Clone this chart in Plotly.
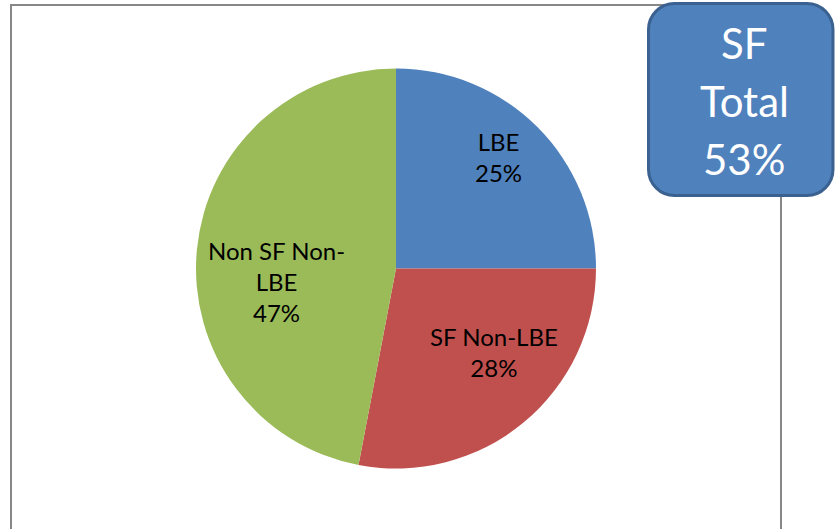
import math
import plotly.graph_objects as go

# ---- data ----
labels = ["LBE", "SF Non-LBE", "Non SF Non-LBE"]
label_text = ["LBE", "SF Non-LBE", "Non SF Non-<br>LBE"]
values = [25, 28, 47]
callout_lines = ["SF", "Total", "53%"]

# ---- style ----
colors = ["#4F81BD", "#C0504D", "#9BBB59"]
W, H = 835, 529
CX, CY, R = 396, 268.5, 200          # pie centre / radius in pixels
label_radius = [151, 129, 120]        # label distance from centre (px)
label_angle_shift = [-2.5, -9.8, -11.6]  # best-fit nudge (deg)
FONT = "Lato, Calibri, 'Open Sans', sans-serif"


def px(x):
    return x / W


def py(y):
    return 1 - y / H


fig = go.Figure()
fig.add_trace(go.Pie(
    labels=labels,
    values=values,
    sort=False,
    direction="clockwise",
    rotation=0,
    marker=dict(colors=colors, line=dict(width=0)),
    textinfo="none",
    hoverinfo="label+percent",
    showlegend=False,
    domain=dict(x=[px(CX - R), px(CX + R)], y=[py(CY + R), py(CY - R)]),
))

annotations = []
total = sum(values)
cum = 0
for i, v in enumerate(values):
    mid = (cum + v / 2) / total * 360 + label_angle_shift[i]
    cum += v
    a = math.radians(mid)
    x = CX + label_radius[i] * math.sin(a)
    y = CY - label_radius[i] * math.cos(a)
    pct = round(v / total * 100)
    annotations.append(dict(
        x=px(x), y=py(y), xref="paper", yref="paper",
        text=f"{label_text[i]}<br>{pct}%", showarrow=False,
        xanchor="center", yanchor="middle", align="center",
        font=dict(family=FONT, size=24, color="#000000"),
    ))

# callout text
for j, t in enumerate(callout_lines):
    annotations.append(dict(
        x=px(744), y=py(43 + j * 58), xref="paper", yref="paper",
        text=t, showarrow=False, xanchor="center", yanchor="middle",
        font=dict(family=FONT, size=42, color="#FFFFFF"),
    ))

# rounded rectangle path (paper coords)
x0, x1, y0, y1, r = 648.5, 833, 3.5, 195.5, 26
k = 0.45


def P(x, y):
    return f"{px(x):.5f},{py(y):.5f}"


path = (
    f"M {P(x0 + r, y0)} L {P(x1 - r, y0)} "
    f"C {P(x1 - r * k, y0)} {P(x1, y0 + r * k)} {P(x1, y0 + r)} "
    f"L {P(x1, y1 - r)} "
    f"C {P(x1, y1 - r * k)} {P(x1 - r * k, y1)} {P(x1 - r, y1)} "
    f"L {P(x0 + r, y1)} "
    f"C {P(x0 + r * k, y1)} {P(x0, y1 - r * k)} {P(x0, y1 - r)} "
    f"L {P(x0, y0 + r)} "
    f"C {P(x0, y0 + r * k)} {P(x0 + r * k, y0)} {P(x0 + r, y0)} Z"
)

shapes = [
    dict(type="rect", xref="paper", yref="paper",
         x0=px(11), x1=px(781), y0=py(5), y1=py(560),
         line=dict(color="#878787", width=2), fillcolor="rgba(0,0,0,0)",
         layer="below"),
    dict(type="path", xref="paper", yref="paper", path=path,
         fillcolor="#4F81BD", line=dict(color="#3A6190", width=3),
         layer="above"),
]

fig.update_layout(
    width=W, height=H,
    margin=dict(l=0, r=0, t=0, b=0),
    paper_bgcolor="#FFFFFF",
    plot_bgcolor="#FFFFFF",
    shapes=shapes,
    annotations=annotations,
)

fig.write_html(
    "out.html",
    config={"displayModeBar": False},
    post_script="document.body.style.margin='0';document.body.style.overflow='hidden';",
)
